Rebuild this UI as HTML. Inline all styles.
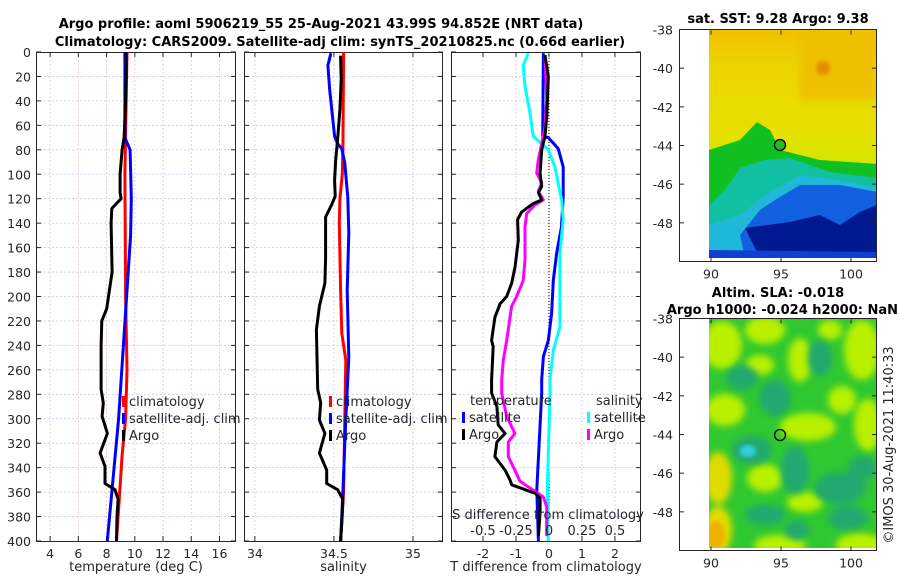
<!DOCTYPE html>
<html><head><meta charset="utf-8"><style>
html,body{margin:0;padding:0;background:#fff;}
svg{display:block;font-family:"DejaVu Sans","Liberation Sans",sans-serif;}
.tk{font-size:12.5px;fill:#262626;}
.ttl{font-size:13px;font-weight:bold;fill:#000;}
.lab{font-size:13px;fill:#262626;}
</style></head><body>
<svg id="fig" width="900" height="580" viewBox="0 0 900 580">
<defs>
<filter id="blur4" x="-30%" y="-30%" width="160%" height="160%"><feGaussianBlur stdDeviation="3.5"/></filter>
<filter id="blur2"><feGaussianBlur stdDeviation="2"/></filter>
<linearGradient id="sstTop" x1="0" y1="0" x2="0" y2="1">
<stop offset="0" stop-color="#f0c000"/><stop offset="0.25" stop-color="#ecd400"/><stop offset="0.7" stop-color="#e6e000"/><stop offset="1" stop-color="#c8e800"/>
</linearGradient>
<clipPath id="clipTop"><rect x="709" y="29" width="167" height="229"/></clipPath>
<clipPath id="clipBot"><rect x="709" y="318" width="167" height="230"/></clipPath>
</defs>
<text class="ttl" x="321" y="28" text-anchor="middle">Argo profile: aoml 5906219_55 25-Aug-2021 43.99S 94.852E (NRT data)</text>
<text class="ttl" x="340" y="46" text-anchor="middle">Climatology: CARS2009. Satellite-adj clim: synTS_20210825.nc (0.66d earlier)</text>

<!-- Top map -->
<g>
<g clip-path="url(#clipTop)">
<rect x="709" y="29" width="167" height="150" fill="url(#sstTop)"/>
<rect x="709" y="170" width="167" height="90" fill="#c8e800"/>
<rect x="800" y="29" width="76" height="70" fill="#eec000" filter="url(#blur4)"/>
<circle cx="823" cy="68" r="7" fill="#e08a00" filter="url(#blur2)"/>
<polygon points="709,150 740,140 757,122 770,130 780,150 820,160 877,164 877,258 709,258" fill="#10c020"/>
<polygon points="709,205 725,190 740,168 765,160 790,158 830,172 877,178 877,258 709,258" fill="#10c0a0"/>
<polygon points="709,225 740,215 765,195 800,175 840,180 877,188 877,258 709,258" fill="#20b8d8"/>
<polygon points="740,235 760,210 775,200 800,185 840,185 877,192 877,258 745,258" fill="#1060e0"/>
<polygon points="745,228 790,222 820,215 840,225 860,212 877,205 877,258 760,258" fill="#001890"/>
<polygon points="709,250 877,252 877,258 709,258" fill="#1040d0"/>
</g>
<circle cx="780" cy="145" r="5.5" fill="#20c020" stroke="#000" stroke-width="1.3"/>
<rect x="679.5" y="29.5" width="197" height="232" fill="none" stroke="#262626"/>
</g>
<text class="ttl" x="778" y="23" text-anchor="middle">sat. SST: 9.28 Argo: 9.38</text>

<!-- Bottom map -->
<g>
<g clip-path="url(#clipBot)">
<rect x="709" y="318" width="167" height="230" fill="#30c830"/>
<g filter="url(#blur4)" fill="#b8f000">
<ellipse cx="722" cy="345" rx="20" ry="24"/><ellipse cx="765" cy="330" rx="20" ry="14"/>
<ellipse cx="862" cy="350" rx="18" ry="30"/><ellipse cx="868" cy="425" rx="14" ry="26"/>
<ellipse cx="725" cy="410" rx="20" ry="16"/><ellipse cx="808" cy="427" rx="28" ry="14"/>
<ellipse cx="842" cy="400" rx="14" ry="14"/><ellipse cx="765" cy="478" rx="18" ry="14"/>
<ellipse cx="805" cy="502" rx="18" ry="10"/><ellipse cx="860" cy="545" rx="24" ry="12"/>
<ellipse cx="780" cy="545" rx="26" ry="10"/><ellipse cx="800" cy="360" rx="12" ry="22"/>
<ellipse cx="760" cy="365" rx="14" ry="10"/><ellipse cx="830" cy="330" rx="12" ry="10"/>
</g>
<g filter="url(#blur4)" fill="#e0dc00">
<ellipse cx="718" cy="478" rx="14" ry="26"/><ellipse cx="718" cy="530" rx="14" ry="24"/>
</g>
<ellipse cx="716" cy="535" rx="9" ry="14" fill="#f0b000" filter="url(#blur2)"/>
<g filter="url(#blur4)" fill="#20a870">
<ellipse cx="742" cy="378" rx="16" ry="12"/><ellipse cx="775" cy="398" rx="16" ry="18"/>
<ellipse cx="752" cy="450" rx="20" ry="14"/><ellipse cx="795" cy="470" rx="14" ry="24"/>
<ellipse cx="840" cy="488" rx="26" ry="16"/><ellipse cx="820" cy="358" rx="12" ry="18"/>
<ellipse cx="862" cy="468" rx="14" ry="12"/><ellipse cx="848" cy="518" rx="20" ry="12"/>
<ellipse cx="765" cy="515" rx="20" ry="10"/><ellipse cx="797" cy="530" rx="12" ry="10"/>
</g>
<ellipse cx="748" cy="451" rx="8" ry="6" fill="#30d0e0" filter="url(#blur2)"/>
</g>
<circle cx="780" cy="435" r="5.5" fill="none" stroke="#000" stroke-width="1.3"/>
<rect x="679.5" y="318.5" width="197" height="232" fill="none" stroke="#262626"/>
</g>
<text class="ttl" x="778" y="297" text-anchor="middle">Altim. SLA: -0.018</text>
<text class="ttl" x="898" y="314" text-anchor="end">Argo h1000: -0.024 h2000: NaN</text>
<text class="lab" x="0" y="0" transform="translate(893,445) rotate(-90)" text-anchor="middle">©IMOS 30-Aug-2021 11:40:33</text>
<g id="dyn"></g>
</svg>
<script>
// ---- data ----
const depthTicks = [0,20,40,60,80,100,120,140,160,180,200,220,240,260,280,300,320,340,360,380,400];
const tempTicks = [4,6,8,10,12,14,16];
const salTicks = [34,34.5,35];
const tdiffTicks = [-2,-1,0,1,2];
const sdiffTickLabels = ["-0.5","-0.25","0","0.25","0.5"];
const sdiffTicks = [-0.5,-0.25,0,0.25,0.5];

const argoTDepth = [0,10,40,70,80,100,115,120,128,140,180,210,220,240,276,287,298,312,328,339,353,358,366,380,400];
const argoT = [9.38,9.40,9.35,9.24,9.10,8.96,8.96,9.03,8.37,8.32,8.39,8.01,7.66,7.61,7.61,7.77,7.68,8.06,7.54,7.89,7.89,8.60,8.82,8.74,8.70];
const climTDepth = [0,100,200,260,300,330,400];
const climT = [9.45,9.30,9.35,9.45,9.35,9.10,8.70];
const satTDepth = [0,70,80,120,150,300,400];
const satT = [9.30,9.30,9.67,9.75,9.70,8.85,8.05];

const argoSDepth = [3,23,47,72,88,105,118,125,135,168,189,208,227,276,287,301,312,328,342,353,358,366,385,400];
const argoS = [34.542,34.546,34.538,34.523,34.511,34.504,34.508,34.485,34.447,34.447,34.443,34.408,34.389,34.397,34.416,34.408,34.443,34.408,34.454,34.454,34.523,34.557,34.550,34.542];
const climSDepth = [0,80,100,120,140,195,230,252,300,360,400];
const climS = [34.561,34.557,34.553,34.538,34.534,34.542,34.550,34.575,34.569,34.561,34.542];
const satSDepth = [1,11,31,69,75,79,91,119,148,195,250,300,360,400];
const satS = [34.481,34.462,34.473,34.504,34.523,34.550,34.569,34.588,34.594,34.584,34.594,34.575,34.557,34.542];

const satTdDepth = [1,69,70,79,94,118,143,165,187,214,236,249,268,279,358,400];
const satTd = [-0.17,-0.19,-0.02,0.28,0.43,0.43,0.38,0.23,0.13,0.08,-0.02,-0.17,-0.22,-0.22,-0.37,-0.32];
const satSdDepth = [1,11,28,50,69,75,80,94,121,137,165,208,225,244,268,279,358,400];
const satSd = [-0.157,-0.195,-0.182,-0.144,-0.119,-0.055,-0.005,0.045,0.096,0.108,0.083,0.083,0.083,0.033,0.008,0.008,-0.013,-0.005];
const argoTdDepth = [2.5,20,53,69,80,99,110,115,121,124,131,137,154,176,189,200,206,217,236,241,268,279,290,305,312,319,331,342,350,354,361,365,377,396];
const argoTd = [-0.12,-0.02,-0.07,-0.12,-0.22,-0.27,-0.22,-0.32,-0.22,-0.48,-0.83,-0.95,-0.93,-1.03,-1.13,-1.28,-1.48,-1.64,-1.74,-1.69,-1.74,-1.74,-1.58,-1.54,-1.33,-1.58,-1.64,-1.33,-1.18,-1.13,-0.42,-0.27,-0.27,-0.32];
const argoSdDepth = [2.5,39,61,75,88,99,107,114,121,125,132,143,170,187,200,208,236,252,268,279,298,312,319,331,345,351,364,372,396];
const argoSd = [-0.030,-0.017,-0.030,-0.055,-0.081,-0.093,-0.055,-0.081,-0.043,-0.106,-0.169,-0.182,-0.182,-0.195,-0.245,-0.283,-0.320,-0.346,-0.358,-0.358,-0.320,-0.258,-0.308,-0.308,-0.245,-0.220,-0.043,-0.017,-0.017];

const mapLatTicks = [-38,-40,-42,-44,-46,-48];
const mapLonTicks = [90,95,100];

// ---- drawing ----
const NS = "http://www.w3.org/2000/svg";
const dyn = document.getElementById('dyn');
function mk(tag, attrs, parent){ const e=document.createElementNS(NS,tag); for(const k in attrs) e.setAttribute(k,attrs[k]); (parent||dyn).appendChild(e); return e; }
const Y0=52, Y1=541;
function yD(d){ return Y0 + d*(Y1-Y0)/400; }

function panel(name, x0, x1, vmin, vmax, ticks, tickLabels, xlabel){
  const g = mk('g',{});
  
  
  const xs = v => x0 + (v-vmin)*(x1-x0)/(vmax-vmin);
  depthTicks.forEach(d=>{ if(d>0&&d<400) mk('line',{x1:x0,x2:x1,y1:yD(d),y2:yD(d),stroke:'#c4c8ec','stroke-width':0.8,'stroke-dasharray':'2,2'},g); });
  ticks.forEach(t=>{ mk('line',{x1:xs(t),x2:xs(t),y1:Y0,y2:Y1,stroke:'#e4c4c0','stroke-width':0.8,'stroke-dasharray':'2,2'},g); });
  depthTicks.forEach(d=>{
    mk('line',{x1:x0,x2:x0+5,y1:yD(d),y2:yD(d),stroke:'#262626'},g);
    mk('line',{x1:x1-5,x2:x1,y1:yD(d),y2:yD(d),stroke:'#262626'},g);
  });
  ticks.forEach((t,i)=>{
    mk('line',{x1:xs(t),x2:xs(t),y1:Y1,y2:Y1-5,stroke:'#262626'},g);
    mk('line',{x1:xs(t),x2:xs(t),y1:Y0,y2:Y0+5,stroke:'#262626'},g);
    const tx = mk('text',{x:xs(t),y:Y1+17,'text-anchor':'middle',class:'tk'},g);
    tx.textContent = tickLabels[i];
    
    
  });
  const xl = mk('text',{x:(x0+x1)/2,y:571,'text-anchor':'middle',class:'lab'},g);
  xl.textContent = xlabel;
  
  
  mk('rect',{x:x0+0.5,y:Y0+0.5,width:x1-x0-1,height:Y1-Y0,fill:'none',stroke:'#262626'},g);
  return {g, xs};
}
function series(p, vals, depths, color, name, xsFn){
  const f = xsFn || p.xs;
  const pts = vals.map((v,i)=> f(v).toFixed(1)+','+yD(depths[i]).toFixed(1)).join(' ');
  const pl = mk('polyline',{points:pts,fill:'none',stroke:color,'stroke-width':3,'stroke-linejoin':'round'},p.g);
  
  
}
function legendEntry(g, x, y, color, label){
  const r = mk('rect',{x:x,y:y-10,width:3,height:11,fill:color},g);
  
  
  const t = mk('text',{x:x+7,y:y,class:'lab'},g);
  t.textContent = label;
  
  
}

depthTicks.forEach(d=>{
  const t = mk('text',{x:31,y:yD(d)+5,'text-anchor':'end',class:'tk'});
  t.textContent = d;
  
  
});

const p1 = panel('temperature-panel', 36, 236, 3, 17.17, tempTicks, tempTicks.map(String), 'temperature (deg C)');
series(p1, climT, climTDepth, '#ff0000', 'climatology-temperature-line');
series(p1, satT, satTDepth, '#0000ff', 'satellite-temperature-line');
series(p1, argoT, argoTDepth, '#000000', 'argo-temperature-line');
legendEntry(p1.g, 122, 406, '#ff0000', 'climatology');
legendEntry(p1.g, 122, 423, '#0000ff', 'satellite-adj. clim');
legendEntry(p1.g, 122, 440, '#000000', 'Argo');

const p2 = panel('salinity-panel', 244, 443, 33.931, 35.19, salTicks, ['34','34.5','35'], 'salinity');
series(p2, climS, climSDepth, '#ff0000', 'climatology-salinity-line');
series(p2, satS, satSDepth, '#0000ff', 'satellite-salinity-line');
series(p2, argoS, argoSDepth, '#000000', 'argo-salinity-line');
legendEntry(p2.g, 329, 406, '#ff0000', 'climatology');
legendEntry(p2.g, 329, 423, '#0000ff', 'satellite-adj. clim');
legendEntry(p2.g, 329, 440, '#000000', 'Argo');

const p3 = panel('difference-panel', 451, 641, -2.97, 2.79, tdiffTicks, tdiffTicks.map(String), 'T difference from climatology');
const xsS = v => p3.xs(v*4);
mk('line',{x1:p3.xs(0),x2:p3.xs(0),y1:Y0,y2:Y1,stroke:'#000','stroke-width':1,'stroke-dasharray':'1,2'},p3.g);
series(p3, satTd, satTdDepth, '#0000ff', 'satellite-t-diff-line');
series(p3, satSd, satSdDepth, '#00ffff', 'satellite-s-diff-line', xsS);
series(p3, argoSd, argoSdDepth, '#ff00ff', 'argo-s-diff-line', xsS);
series(p3, argoTd, argoTdDepth, '#000000', 'argo-t-diff-line');
const lt = mk('text',{x:470,y:405,class:'lab'},p3.g); lt.textContent='temperature';


const ls = mk('text',{x:596,y:405,class:'lab'},p3.g); ls.textContent='salinity';


legendEntry(p3.g, 462, 422, '#0000ff', 'satellite');
legendEntry(p3.g, 462, 439, '#000000', 'Argo');
legendEntry(p3.g, 587, 422, '#00ffff', 'satellite');
legendEntry(p3.g, 587, 439, '#ff00ff', 'Argo');
const sdt = mk('text',{x:548,y:519,'text-anchor':'middle',class:'lab'},p3.g); sdt.textContent='S difference from climatology';


sdiffTicks.forEach((v,i)=>{
  const t = mk('text',{x:xsS(v),y:535,'text-anchor':'middle',class:'lab'},p3.g);
  t.textContent = sdiffTickLabels[i];
  
  
});

function mapAxes(top, bottom, latTop){
  const yL = lat => top + (latTop - lat)*(bottom-top)/(latTop-(-50));
  const xL = lon => 711 + (lon-90)*14;
  mapLatTicks.forEach(l=>{
    const y = yL(l);
    mk('line',{x1:680,x2:684,y1:y,y2:y,stroke:'#262626'});
    mk('line',{x1:872,x2:876,y1:y,y2:y,stroke:'#262626'});
    const t = mk('text',{x:673,y:y+5,'text-anchor':'end',class:'tk'});
    t.textContent = l;
    
    
  });
  mapLonTicks.forEach(l=>{
    const x = xL(l);
    mk('line',{x1:x,x2:x,y1:bottom,y2:bottom-4,stroke:'#262626'});
    mk('line',{x1:x,x2:x,y1:top+1,y2:top+5,stroke:'#262626'});
    const t = mk('text',{x:x,y:bottom+17,'text-anchor':'middle',class:'tk'});
    t.textContent = l;
    
    
  });
}
mapAxes(29.5, 261.5, -38);
mapAxes(318.5, 550.5, -38);
</script>
</body></html>
